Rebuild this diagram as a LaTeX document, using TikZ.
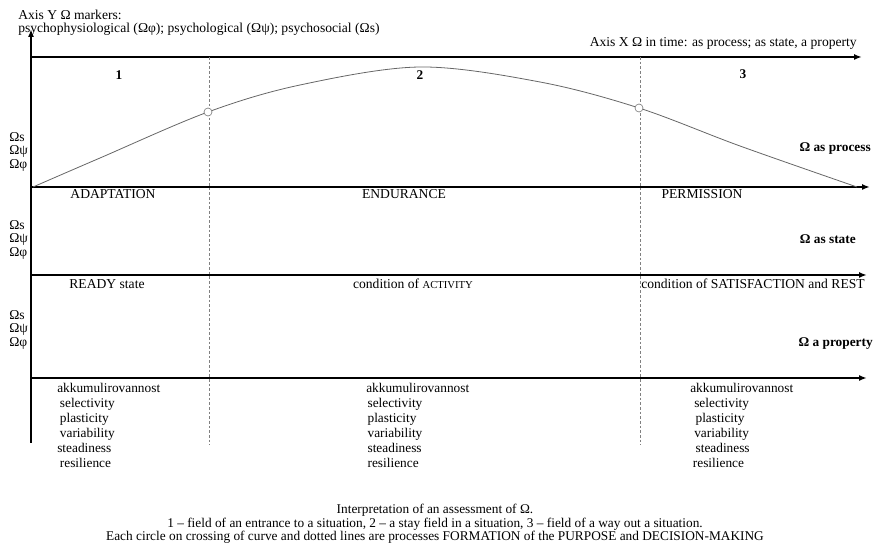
\documentclass[tikz,border=0pt]{standalone}
\usepackage{fontspec}
\setmainfont{Liberation Serif}
\usetikzlibrary{arrows.meta}
\tikzset{
	axis/.style={line width=1.5pt, -{Latex[length=6pt,width=4.5pt]}},
	border/.style={gray, line width=0.5pt, dash pattern=on 2pt off 1.5pt},
	ring/.style={circle, draw=gray, fill=white, line width=0.5pt, inner sep=0pt, minimum size=6pt},
	omega/.style={anchor=west, inner sep=0pt},
	field/.style={font=\bfseries},
	side/.style={anchor=east, inner sep=0pt, font=\bfseries},
	props/.style={anchor=north west, inner sep=0pt, align=left, font=\fontsize{10}{11.25}\selectfont}
}
\begin{document}
\begin{tikzpicture}[x=0.75pt,y=-0.75pt,font=\fontsize{10.2}{12}\selectfont]
\useasboundingbox (0,0) rectangle (875,548);
% axes
\coordinate (Y0) at (31,443);
\coordinate (Y1) at (31,29);
\draw[axis] (Y0) -- (Y1);
\foreach \n/\y/\e in {top/57/862, proc/187/870, state/275/867, prop/378/867} {
	\coordinate (\n-s) at (31,\y);
	\coordinate (\n-e) at (\e,\y);
	\draw[axis] (\n-s) -- (\n-e);
}
% field borders
\foreach \n/\x in {a/209, b/640} {
	\coordinate (\n-t) at (\x,57);
	\coordinate (\n-b) at (\x,445);
	\draw[border] (\n-t) -- (\n-b);
}
% curve
\draw[gray!80!black, line width=0.6pt] plot[smooth, tension=0.55] coordinates
	{(33,187) (100,158) (208,112) (300,85) (420,67) (540,82) (639,108) (740,146) (857,187)};
\node[ring] (c1) at (208,112) {};
\node[ring] (c2) at (639,108) {};
% axis texts
\node[anchor=west, inner sep=0pt] (ylab) at (18,15) {Axis Y Ω markers:};
\node[anchor=west, inner sep=0pt] (ymark) at (18,29) {psychophysiological (Ωφ); psychological (Ωψ); psychosocial (Ωs)};
\node[anchor=east, inner sep=0pt] (xlab) at (857,43) {Axis X Ω in time: as process; as state, a property};
\node[field] (f1) at (119,75) {1};
\node[field] (f2) at (420,75) {2};
\node[field] (f3) at (743,74) {3};
\foreach \g/\y in {p/137, s/225, q/315} {
	\node[omega] (\g-s) at (9,\y) {Ωs};
	\node[omega] (\g-psi) at (9,\y+14) {Ωψ};
	\node[omega] (\g-phi) at (9,\y+28) {Ωφ};
}
\node[side] (sproc) at (871,149) {Ω as process};
\node[side] (sstate) at (856,239) {Ω as state};
\node[side] (sprop) at (873,344) {Ω a property};
% stages
\node (adapt) at (113,194) {ADAPTATION};
\node (endur) at (404,194) {ENDURANCE};
\node (perm) at (702,194) {PERMISSION};
\node (ready) at (107,284) {READY state};
\node (activ) at (413,284) {condition of {\fontsize{8}{10}\selectfont ACTIVITY}};
\node (rest) at (753,284) {condition of SATISFACTION and REST};
% properties
\node[props] (pl) at (57,383) {akkumulirovannost\\\hspace{2pt}selectivity\\\hspace{2pt}plasticity\\\hspace{2pt}variability\\steadiness\\\hspace{2pt}resilience};
\node[props] (pm) at (366,383) {akkumulirovannost\\\hspace{1pt}selectivity\\\hspace{1pt}plasticity\\\hspace{1pt}variability\\\hspace{1pt}steadiness\\\hspace{1pt}resilience};
\node[props] (pr) at (690,383) {akkumulirovannost\\\hspace{3pt}selectivity\\\hspace{4pt}plasticity\\\hspace{3pt}variability\\\hspace{4pt}steadiness\\\hspace{2pt}resilience};
% caption
\node[align=center, inner sep=0pt, font=\fontsize{10}{10.1}\selectfont] (cap) at (435,524) {Interpretation of an assessment of Ω.\\
	1 – field of an entrance to a situation, 2 – a stay field in a situation, 3 – field of a way out a situation.\\
	Each circle on crossing of curve and dotted lines are processes FORMATION of the PURPOSE and DECISION-MAKING};
\end{tikzpicture}
\end{document}
